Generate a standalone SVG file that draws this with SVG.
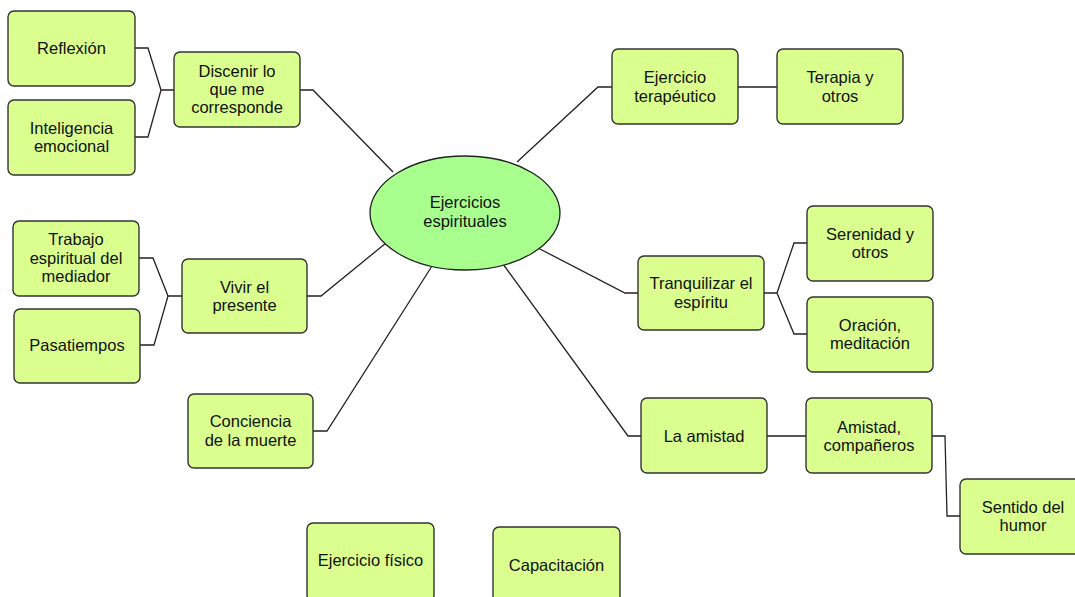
<svg xmlns="http://www.w3.org/2000/svg" width="1075" height="597" viewBox="0 0 1075 597">
<style>
.box{fill:#daff8e;stroke:#333;stroke-width:1.4}
.hub{fill:#a8ff8e;stroke:#222;stroke-width:1.3}
.con{fill:none;stroke:#222;stroke-width:1.3}
text{font-family:"Liberation Sans",Arial,Helvetica,sans-serif;font-size:16.5px;fill:#111;text-anchor:middle;dominant-baseline:central}
</style>
<rect width="1075" height="597" fill="#fff"/>
<g id="connectors">
<path class="con" d="M135,48 H148 L161,90 H174 M135,137 H148 L161,90"/>
<path class="con" d="M300,90 H313 L393,172"/>
<path class="con" d="M612,87 H598 L517,162 M738,87 H777"/>
<path class="con" d="M764,293 H777 L794,243 H807 M777,293 L794,334 H807 M638,293 H625 L538,248"/>
<path class="con" d="M641,436 H628 L503,264 M767,436 H806 M932,436 H945 L947,516 H960"/>
<path class="con" d="M139,258 H153 L168,296 H182 M140,345 H154 L168,296 M307,296 H321 L386,243"/>
<path class="con" d="M313,431 H327 L432,266"/>
</g>
<g id="center"><ellipse class="hub" cx="465" cy="213" rx="95" ry="57"/><text x="465" y="202">Ejercicios</text><text x="465" y="221">espirituales</text></g>
<g id="reflexion"><rect class="box" x="8" y="11" width="127" height="75" rx="6"/><text x="71.5" y="48">Reflexión</text></g>
<g id="inteligencia"><rect class="box" x="8" y="100" width="127" height="75" rx="6"/><text x="71.5" y="128">Inteligencia</text><text x="71.5" y="146">emocional</text></g>
<g id="discenir"><rect class="box" x="174" y="52" width="126" height="75" rx="6"/><text x="237" y="71">Discenir lo</text><text x="237" y="89">que me</text><text x="237" y="107">corresponde</text></g>
<g id="terapeutico"><rect class="box" x="612" y="49" width="126" height="75" rx="6"/><text x="675" y="77">Ejercicio</text><text x="675" y="96">terapéutico</text></g>
<g id="terapia"><rect class="box" x="777" y="49" width="126" height="75" rx="6"/><text x="840" y="77">Terapia y</text><text x="840" y="96">otros</text></g>
<g id="tranquilizar"><rect class="box" x="638" y="256" width="126" height="74" rx="6"/><text x="701" y="283">Tranquilizar el</text><text x="701" y="302">espíritu</text></g>
<g id="serenidad"><rect class="box" x="807" y="206" width="126" height="75" rx="6"/><text x="870" y="234">Serenidad y</text><text x="870" y="252">otros</text></g>
<g id="oracion"><rect class="box" x="807" y="297" width="126" height="75" rx="6"/><text x="870" y="325">Oración,</text><text x="870" y="343">meditación</text></g>
<g id="amistad"><rect class="box" x="641" y="398" width="126" height="75" rx="6"/><text x="704" y="436">La amistad</text></g>
<g id="companeros"><rect class="box" x="806" y="398" width="126" height="75" rx="6"/><text x="869" y="427">Amistad,</text><text x="869" y="445">compañeros</text></g>
<g id="humor"><rect class="box" x="960" y="479" width="126" height="75" rx="6"/><text x="1023" y="507">Sentido del</text><text x="1023" y="525">humor</text></g>
<g id="vivir"><rect class="box" x="182" y="259" width="125" height="74" rx="6"/><text x="244.5" y="287">Vivir el</text><text x="244.5" y="305">presente</text></g>
<g id="trabajo"><rect class="box" x="13" y="221" width="126" height="75" rx="6"/><text x="76" y="239">Trabajo</text><text x="76" y="258">espiritual del</text><text x="76" y="276">mediador</text></g>
<g id="pasatiempos"><rect class="box" x="14" y="309" width="126" height="74" rx="6"/><text x="77" y="345">Pasatiempos</text></g>
<g id="conciencia"><rect class="box" x="188" y="394" width="125" height="74" rx="6"/><text x="250.5" y="421">Conciencia</text><text x="250.5" y="440">de la muerte</text></g>
<g id="fisico"><rect class="box" x="307" y="523" width="127" height="78" rx="6"/><text x="370.5" y="560">Ejercicio físico</text></g>
<g id="capacitacion"><rect class="box" x="493" y="527" width="127" height="78" rx="6"/><text x="556.5" y="565">Capacitación</text></g>
</svg>
